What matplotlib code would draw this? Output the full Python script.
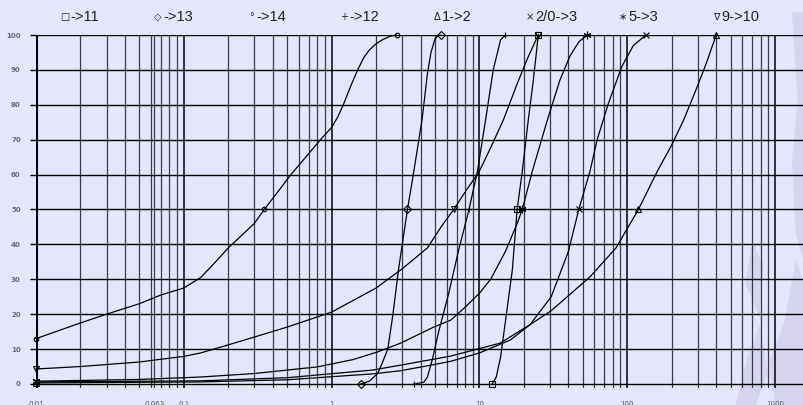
import matplotlib.pyplot as plt
from matplotlib.patches import Polygon

# grain size (mm) and percent passing
d_circ = [0.01, 0.02, 0.03, 0.05, 0.07, 0.1, 0.13, 0.16, 0.2, 0.3, 0.35, 0.45, 0.53, 0.7, 0.84, 1.0,
          1.1, 1.2, 1.35, 1.5, 1.65, 1.8, 2.0, 2.2, 2.5, 2.75]
p_circ = [13, 17.5, 20, 23, 25.5, 27.5, 30.5, 34.5, 39, 46, 50, 56, 60, 66, 70, 73.5,
          76.5, 80, 85.5, 90, 93.5, 95.7, 97.5, 98.6, 99.7, 100]

d_diam = [1.57, 1.8, 2.05, 2.2, 2.4, 2.6, 2.84, 3.26, 3.6, 4.1, 4.45, 4.7, 5.0, 5.2, 5.5]
p_diam = [0, 0.8, 3, 6, 10, 20, 33, 50, 61, 76, 89, 95, 98.8, 99.7, 100]

d_plus = [3.6, 4.2, 4.45, 4.8, 5.3, 6.2, 7.2, 8.5, 9.7, 11, 12.4, 13.9, 15]
p_plus = [0, 0.5, 2, 7, 15, 26, 38, 50, 61, 75.6, 90, 98.6, 100]

d_tdown = [0.01, 0.02, 0.05, 0.1, 0.13, 0.2, 0.5, 1.0, 2.0, 3.0, 4.45, 5.5, 6.7, 8, 10, 12, 14.5, 18, 21, 25]
p_tdown = [4.3, 5, 6.3, 7.9, 8.9, 11.2, 16.3, 20.6, 27.5, 33, 39, 45, 50, 55, 61, 68, 75.6, 86, 93, 100]

d_sq = [12.2, 13, 13.9, 15, 16.7, 18, 19.5, 21.4, 23, 24, 25]
p_sq = [0, 2, 7.7, 18, 32.7, 50, 61, 75.6, 86, 93, 100]

d_star = [0.01, 0.05, 0.13, 0.3, 0.8, 1.4, 2.05, 2.93, 4.9, 6.4, 8, 10, 11.9, 15, 18, 19.5, 22.8, 28.8, 35, 41, 47, 53.5]
p_star = [0.8, 1.3, 2, 3, 4.9, 7, 9.2, 11.7, 16.3, 18.3, 22, 26, 30, 38, 46, 50, 61, 75.6, 87, 94, 98, 100]

d_x = [0.01, 0.13, 0.5, 1.9, 2.93, 6.4, 13.8, 22, 30.6, 40, 47, 56, 62.6, 74, 92, 110, 134]
p_x = [0.6, 0.9, 1.8, 4, 5.4, 8, 11.7, 17, 25, 38, 50, 61, 70, 80, 91, 97, 100]

d_tup = [0.01, 0.13, 0.5, 1.9, 2.93, 4.7, 6.4, 10, 16.2, 22, 30.6, 56, 84, 119, 160, 200, 240, 290, 340, 400]
p_tup = [0.3, 0.6, 1.2, 2.9, 3.8, 5.4, 6.5, 8.9, 12.6, 17, 21, 30.7, 39, 50, 61, 68.5, 75.5, 84, 91.5, 100]

legend_syms = ["\u25a1", "\u25c7", "\u00b0", "+", "\u0394", "\u00d7", "\u2217", "\u2207"]
legend_txt = ["->11", "->13", "->14", "->12", "1->2", "2/0->3", "5->3", "9->10"]

x_ticks = [0.01, 0.063, 0.1, 1, 10, 100, 1000]
x_labels = ["0.01", "0.063", "0.1", "1", "10", "100", "1000"]

bg = "#e4e7fb"
W, H = 804, 405
fig = plt.figure(figsize=(W / 100, H / 100), dpi=100, facecolor=bg)

# faint map watermark on the right edge
wm = "#d6d4ef"
shapes = [
    [(0.985, 0.97), (1.0, 0.97), (1.0, 0.35), (0.99, 0.42), (0.985, 0.6), (0.992, 0.75)],
    [(0.965, 0.0), (1.0, 0.0), (1.0, 0.3), (0.99, 0.36), (0.975, 0.2), (0.955, 0.1)],
    [(0.915, 0.0), (0.94, 0.0), (0.955, 0.08), (0.945, 0.2), (0.93, 0.12)],
    [(1.03 * 0.9, 0.3), (0.945, 0.22), (0.95, 0.35), (0.935, 0.4)],
]
for pts in shapes:
    fig.patches.append(Polygon(pts, closed=True, transform=fig.transFigure, facecolor=wm,
                               edgecolor="none", zorder=-1))

ax = fig.add_axes([36 / W, 1 - 388 / H, (W - 36) / W, (388 - 35) / H])
ax.set_facecolor("none")
ax.set_xscale("log")
ax.set_xlim(0.01, 1570)
ax.set_ylim(-1.15, 100)
for s in ax.spines.values():
    s.set_visible(False)

# grid
vx = [m * 10.0 ** e for e in range(-2, 3) for m in range(1, 10)] + [1000, 0.063]
for v in vx:
    decade = v in (0.1, 1, 10, 100, 1000)
    ax.vlines(v, -1.15, 100, color="black" if decade else "#3a3a4a", lw=1.1 if decade else 0.9, zorder=1)
ax.vlines(0.01, -1.15, 100, color="black", lw=2.2, zorder=2)
ax.hlines(range(0, 101, 10), 0.01, 1570, color="black", lw=1.0, zorder=1)

curves = [
    (d_sq, p_sq, "s", 4.5),
    (d_diam, p_diam, "D", 4.2),
    (d_circ, p_circ, "o", 3.3),
    (d_plus, p_plus, "+", 5),
    (d_tup, p_tup, "^", 4.5),
    (d_x, p_x, "x", 4.5),
    (d_star, p_star, (6, 2, 0), 5.5),
    (d_tdown, p_tdown, "v", 4.5),
]
for dd, pp, mk, ms in curves:
    marks = [0, pp.index(50) if 50 in pp else 0, len(pp) - 1]
    ax.plot(dd, pp, color="black", lw=0.9, marker=mk, ms=ms, mfc="none", mec="black",
            mew=0.8, markevery=marks, zorder=3, clip_on=False)

ax.set_yticks(range(0, 101, 10))
ax.set_yticklabels([str(v) for v in range(0, 101, 10)], fontsize=5, color="#6a6a7a", fontweight="bold")
ax.tick_params(axis="y", length=4, width=1, color="black", pad=7)
ax.set_xticks(x_ticks)
ax.set_xticklabels(x_labels, fontsize=5, color="#55555f")
ax.xaxis.set_minor_locator(plt.NullLocator())
ax.tick_params(axis="x", length=0, pad=9)

for i, (sym, txt) in enumerate(zip(legend_syms, legend_txt)):
    cx = (79 + 93 * i) / W
    fig.text(cx - 14 / W, 1 - 17 / H, sym, fontsize=7, ha="center", va="center", color="#222222",
             family="DejaVu Sans")
    fig.text(cx - 9 / W, 1 - 17 / H, txt, fontsize=10.5, ha="left", va="center", color="#222222",
             family="Liberation Sans")

fig.savefig("out.png", dpi=100, facecolor=bg)
